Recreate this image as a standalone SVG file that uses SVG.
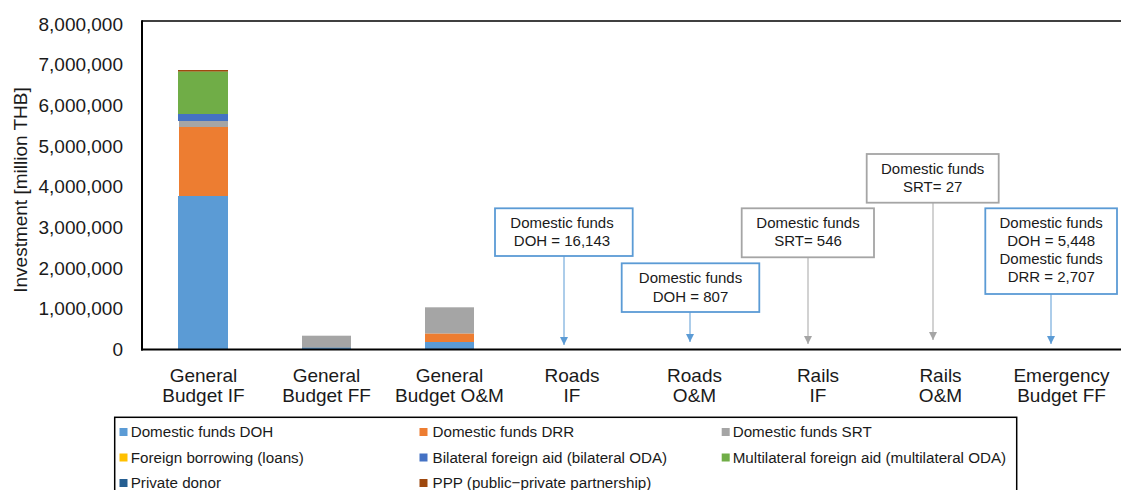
<svg xmlns="http://www.w3.org/2000/svg" width="1121" height="490" viewBox="0 0 1121 490">
  <style>
    text { font-family: "Liberation Sans", Arial, sans-serif; fill: #1a1a1a; }
    .tick { font-size: 19px; text-anchor: end; }
    .cat { font-size: 19px; text-anchor: middle; }
    .title { font-size: 19px; text-anchor: middle; }
    .note { font-size: 15px; text-anchor: middle; }
    .leg { font-size: 15.2px; }
    .box-blue { fill: #fff; stroke: #5B9BD5; stroke-width: 1.8; }
    .box-gray { fill: #fff; stroke: #A5A5A5; stroke-width: 1.8; }
    .lead-blue { stroke: #5B9BD5; stroke-width: 1; fill: none; }
    .lead-gray { stroke: #A5A5A5; stroke-width: 1; fill: none; }
    .doh { fill: #5B9BD5; } .drr { fill: #ED7D31; } .srt { fill: #A5A5A5; }
    .loan { fill: #FFC000; } .bil { fill: #4472C4; } .mul { fill: #70AD47; }
    .pvt { fill: #255E91; } .ppp { fill: #9E480E; }
  </style>
  <defs>
    <marker id="tip-blue" markerUnits="userSpaceOnUse" markerWidth="8" markerHeight="8" refX="8" refY="4" orient="auto" viewBox="0 0 8 8">
      <path d="M0,0 L8,4 L0,8 Z" fill="#5B9BD5"/>
    </marker>
    <marker id="tip-gray" markerUnits="userSpaceOnUse" markerWidth="8" markerHeight="8" refX="8" refY="4" orient="auto" viewBox="0 0 8 8">
      <path d="M0,0 L8,4 L0,8 Z" fill="#A5A5A5"/>
    </marker>
  </defs>
  <rect x="0" y="0" width="1121" height="490" fill="#fff"/>

  <!-- value axis labels -->
  <g id="value-axis">
    <text class="tick" x="123" y="30.5">8,000,000</text>
    <text class="tick" x="123" y="71.2">7,000,000</text>
    <text class="tick" x="123" y="111.9">6,000,000</text>
    <text class="tick" x="123" y="152.6">5,000,000</text>
    <text class="tick" x="123" y="193.3">4,000,000</text>
    <text class="tick" x="123" y="234">3,000,000</text>
    <text class="tick" x="123" y="274.7">2,000,000</text>
    <text class="tick" x="123" y="315.4">1,000,000</text>
    <text class="tick" x="123" y="356">0</text>
    <text class="title" transform="translate(27 190) rotate(-90)">Investment [million THB]</text>
  </g>

  <!-- stacked bars -->
  <g id="bar-general-if">
    <rect class="doh" x="178" y="196" width="50" height="153.5"/>
    <rect class="drr" x="179" y="127" width="49" height="69"/>
    <rect class="srt" x="179" y="121" width="49" height="6"/>
    <rect class="bil" x="178" y="114" width="50" height="7"/>
    <rect class="mul" x="178" y="71.3" width="50" height="42.7"/>
    <rect class="ppp" x="178" y="70" width="50" height="1.5"/>
  </g>
  <g id="bar-general-ff">
    <rect class="srt" x="302" y="335.7" width="49" height="12.3"/>
    <rect class="doh" x="302" y="347.7" width="49" height="1.8"/>
  </g>
  <g id="bar-general-om">
    <rect class="srt" x="425" y="307.3" width="49" height="26.4"/>
    <rect class="drr" x="425" y="333.7" width="49" height="8.3"/>
    <rect class="doh" x="425" y="342" width="49" height="7.5"/>
  </g>

  <!-- plot frame -->
  <g id="frame" fill="none" stroke="#000">
    <line x1="142" y1="21" x2="1121" y2="21" stroke-width="1.5"/>
    <line x1="142" y1="20.3" x2="142" y2="350.5" stroke-width="2"/>
    <line x1="141" y1="349.5" x2="1121" y2="349.5" stroke-width="2"/>
  </g>

  <!-- category labels -->
  <g id="categories">
    <text class="cat" x="203.5" y="381.7">General</text>
    <text class="cat" x="203.5" y="401.7">Budget IF</text>
    <text class="cat" x="326.5" y="381.7">General</text>
    <text class="cat" x="326.5" y="401.7">Budget FF</text>
    <text class="cat" x="449.5" y="381.7">General</text>
    <text class="cat" x="449.5" y="401.7">Budget O&amp;M</text>
    <text class="cat" x="572" y="381.7">Roads</text>
    <text class="cat" x="572" y="401.7">IF</text>
    <text class="cat" x="694.5" y="381.7">Roads</text>
    <text class="cat" x="694.5" y="401.7">O&amp;M</text>
    <text class="cat" x="818" y="381.7">Rails</text>
    <text class="cat" x="818" y="401.7">IF</text>
    <text class="cat" x="940.5" y="381.7">Rails</text>
    <text class="cat" x="940.5" y="401.7">O&amp;M</text>
    <text class="cat" x="1061.5" y="381.7">Emergency</text>
    <text class="cat" x="1061.5" y="401.7">Budget FF</text>
  </g>

  <!-- leader lines from callouts down to the axis -->
  <g id="connectors">
    <line class="lead-blue" x1="564" y1="256" x2="564" y2="345" marker-end="url(#tip-blue)"/>
    <line class="lead-blue" x1="690" y1="312" x2="690" y2="342" marker-end="url(#tip-blue)"/>
    <line class="lead-gray" x1="808" y1="257.3" x2="808" y2="344" marker-end="url(#tip-gray)"/>
    <line class="lead-gray" x1="933" y1="202.7" x2="933" y2="340" marker-end="url(#tip-gray)"/>
    <line class="lead-blue" x1="1051" y1="294" x2="1051" y2="344" marker-end="url(#tip-blue)"/>
  </g>

  <!-- callouts -->
  <g id="note-roads-if">
    <rect class="box-blue" x="495" y="208.3" width="137.7" height="47.7"/>
    <text class="note" x="562" y="228">Domestic funds</text>
    <text class="note" x="562" y="246">DOH = 16,143</text>
  </g>
  <g id="note-roads-om">
    <rect class="box-blue" x="621.7" y="263.3" width="137.6" height="48.7"/>
    <text class="note" x="690.5" y="282.7">Domestic funds</text>
    <text class="note" x="690.5" y="301.7">DOH = 807</text>
  </g>
  <g id="note-rails-if">
    <rect class="box-gray" x="741.7" y="208.3" width="132.3" height="49"/>
    <text class="note" x="808" y="227.7">Domestic funds</text>
    <text class="note" x="808" y="245.7">SRT= 546</text>
  </g>
  <g id="note-rails-om">
    <rect class="box-gray" x="866.7" y="154" width="132" height="48.7"/>
    <text class="note" x="932.7" y="174">Domestic funds</text>
    <text class="note" x="932.7" y="192.3">SRT= 27</text>
  </g>
  <g id="note-emergency">
    <rect class="box-blue" x="985.3" y="208.3" width="131.7" height="85.7"/>
    <text class="note" x="1051.2" y="227.7">Domestic funds</text>
    <text class="note" x="1051.2" y="245.7">DOH = 5,448</text>
    <text class="note" x="1051.2" y="264">Domestic funds</text>
    <text class="note" x="1051.2" y="282.3">DRR = 2,707</text>
  </g>

  <!-- legend -->
  <g id="legend">
    <rect x="114.7" y="417.3" width="902" height="90" fill="#fff" stroke="#000" stroke-width="1.5"/>
    <rect class="doh" x="119.5" y="428" width="8" height="8"/>
    <text class="leg" x="130.7" y="437">Domestic funds DOH</text>
    <rect class="drr" x="419.5" y="428" width="8" height="8"/>
    <text class="leg" x="432.5" y="437">Domestic funds DRR</text>
    <rect class="srt" x="721.7" y="428" width="8" height="8"/>
    <text class="leg" x="732.7" y="437">Domestic funds SRT</text>

    <rect class="loan" x="119.5" y="453.5" width="8" height="8"/>
    <text class="leg" x="130.7" y="462.5">Foreign borrowing (loans)</text>
    <rect class="bil" x="419.5" y="453.5" width="8" height="8"/>
    <text class="leg" x="432.5" y="462.5">Bilateral foreign aid (bilateral ODA)</text>
    <rect class="mul" x="721.7" y="453.5" width="8" height="8"/>
    <text class="leg" x="732.7" y="462.5">Multilateral foreign aid (multilateral ODA)</text>

    <rect class="pvt" x="119.5" y="479" width="8" height="8"/>
    <text class="leg" x="130.7" y="488">Private donor</text>
    <rect class="ppp" x="419.5" y="479" width="8" height="8"/>
    <text class="leg" x="432.5" y="488">PPP (public−private partnership)</text>
  </g>
</svg>
